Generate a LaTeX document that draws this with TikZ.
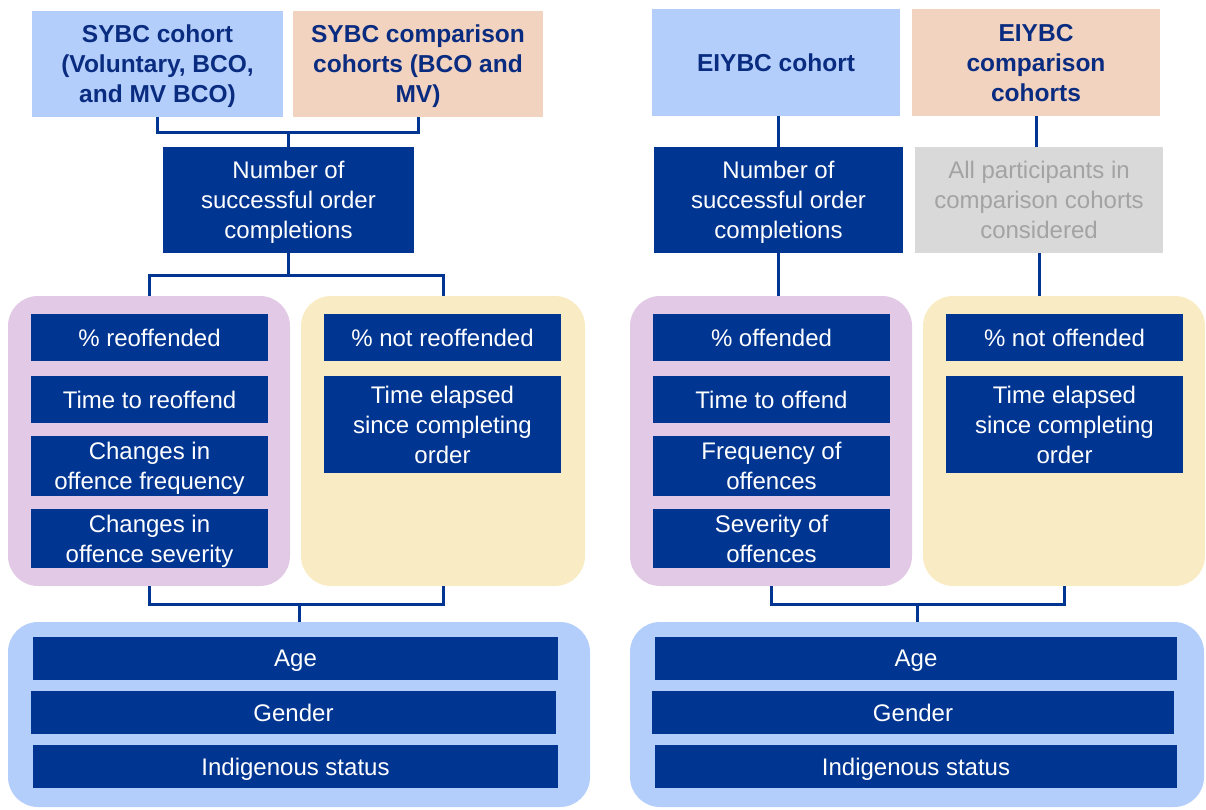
\documentclass[tikz,border=0pt]{standalone}
\usepackage{fontspec}
\setmainfont{Liberation Sans}
\definecolor{navy}{HTML}{003591}
\definecolor{titlenavy}{HTML}{0A2C80}
\definecolor{cohortblue}{HTML}{B4CEFB}
\definecolor{peach}{HTML}{F1D3BF}
\definecolor{lilac}{HTML}{E2C9E5}
\definecolor{cream}{HTML}{F9ECC4}
\definecolor{greybox}{HTML}{D9D9D9}
\definecolor{greytext}{HTML}{A3A3A3}
\begin{document}
\begin{tikzpicture}
[x=1pt,y=-1pt,
 titledecorate/.style={shape=rectangle,inner sep=0pt,text depth=0pt,text=titlenavy,align=center,font=\bfseries\fontsize{24.5}{30}\selectfont},%
 measuredecorate/.style={shape=rectangle,inner sep=0pt,text depth=0pt,fill=navy,text=white,align=center,font=\fontsize{24}{30}\selectfont},%
 paneldecorate/.style={shape=rectangle,inner sep=0pt,rounded corners=30pt},%
 linedecorate/.style={draw=navy,line width=3pt}]
\useasboundingbox (0,0) rectangle (1206,809);
% left half: cohorts
\node (sybc) at (157.5,64) [titledecorate,fill=cohortblue,minimum width=251pt,minimum height=106pt] {SYBC cohort\\(Voluntary, BCO,\\and MV BCO)};
\node (sybccmp) at (418,64) [titledecorate,fill=peach,minimum width=250pt,minimum height=106pt] {SYBC comparison\\cohorts (BCO and\\MV)};
\node (num) at (288.5,200) [measuredecorate,minimum width=251pt,minimum height=106pt] {Number of\\successful order\\completions};
% left half: outcome panels
\node (pur) at (149,441) [paneldecorate,fill=lilac,minimum width=282pt,minimum height=290pt] {};
\node (yel) at (443,441) [paneldecorate,fill=cream,minimum width=284pt,minimum height=290pt] {};
\node (reoff) at (149.5,337.5) [measuredecorate,minimum width=237pt,minimum height=47pt] {\% reoffended};
\node (timere) at (149.5,399.5) [measuredecorate,minimum width=237pt,minimum height=47pt] {Time to reoffend};
\node (freq) at (149.5,466) [measuredecorate,minimum width=237pt,minimum height=60pt] {Changes in\\offence frequency};
\node (sev) at (149.5,538.5) [measuredecorate,minimum width=237pt,minimum height=59pt] {Changes in\\offence severity};
\node (notreoff) at (442.5,337.5) [measuredecorate,minimum width=237pt,minimum height=47pt] {\% not reoffended};
\node (elapsed) at (442.5,424.5) [measuredecorate,minimum width=237pt,minimum height=97pt] {Time elapsed\\since completing\\order};
% left half: demographics
\node (demo) at (299,714.5) [paneldecorate,fill=cohortblue,minimum width=582pt,minimum height=185pt] {};
\node (age) at (295.5,658.5) [measuredecorate,minimum width=525pt,minimum height=43pt] {Age};
\node (gender) at (293.5,712.5) [measuredecorate,minimum width=525pt,minimum height=43pt] {Gender};
\node (indig) at (295.5,766.5) [measuredecorate,minimum width=525pt,minimum height=43pt] {Indigenous status};
% right half: cohorts
\node (eiybc) at (776,62.5) [titledecorate,fill=cohortblue,minimum width=248pt,minimum height=107pt] {EIYBC cohort};
\node (eiybccmp) at (1036,62.5) [titledecorate,fill=peach,minimum width=248pt,minimum height=107pt] {EIYBC\\comparison\\cohorts};
\node (num2) at (778.5,200) [measuredecorate,minimum width=249pt,minimum height=106pt] {Number of\\successful order\\completions};
\node (allpart) at (1039,200) [measuredecorate,fill=greybox,text=greytext,minimum width=248pt,minimum height=106pt] {All participants in\\comparison cohorts\\considered};
% right half: outcome panels
\node (pur2) at (771,441) [paneldecorate,fill=lilac,minimum width=282pt,minimum height=290pt] {};
\node (yel2) at (1064,441) [paneldecorate,fill=cream,minimum width=282pt,minimum height=290pt] {};
\node (off) at (771.5,337.5) [measuredecorate,minimum width=237pt,minimum height=47pt] {\% offended};
\node (timeoff) at (771.5,399.5) [measuredecorate,minimum width=237pt,minimum height=47pt] {Time to offend};
\node (freq2) at (771.5,466) [measuredecorate,minimum width=237pt,minimum height=60pt] {Frequency of\\offences};
\node (sev2) at (771.5,538.5) [measuredecorate,minimum width=237pt,minimum height=59pt] {Severity of\\offences};
\node (notoff) at (1064.5,337.5) [measuredecorate,minimum width=237pt,minimum height=47pt] {\% not offended};
\node (elapsed2) at (1064.5,424.5) [measuredecorate,minimum width=237pt,minimum height=97pt] {Time elapsed\\since completing\\order};
% right half: demographics
\node (demo2) at (917,714.5) [paneldecorate,fill=cohortblue,minimum width=574pt,minimum height=185pt] {};
\node (age2) at (916,658.5) [measuredecorate,minimum width=522pt,minimum height=43pt] {Age};
\node (gender2) at (913,712.5) [measuredecorate,minimum width=522pt,minimum height=43pt] {Gender};
\node (indig2) at (916,766.5) [measuredecorate,minimum width=522pt,minimum height=43pt] {Indigenous status};
% joins
\coordinate (sybcjoin) at (288.5,132);
\coordinate (numjoin) at (288.5,275);
\coordinate (outjoin) at (299,604);
\coordinate (outjoin2) at (917,604);
% edges or lines
\draw[linedecorate] (sybc.south) |- (sybcjoin) -| (sybccmp.south);
\draw[linedecorate] (sybcjoin) -- (num.north);
\draw[linedecorate] (num.south) -- (numjoin);
\draw[linedecorate] (pur.north) |- (numjoin) -| (yel.north);
\draw[linedecorate] (pur.south) |- (outjoin) -| (yel.south);
\draw[linedecorate] (outjoin) -- (demo.north);
\draw[linedecorate] (num2.north) -- (num2.north |- eiybc.south);
\draw[linedecorate] (allpart.north -| eiybccmp.south) -- (eiybccmp.south);
\draw[linedecorate] (num2.south) -- (num2.south |- pur2.north);
\draw[linedecorate] (allpart.south) -- (allpart.south |- yel2.north);
\draw[linedecorate] (pur2.south) |- (outjoin2) -| (yel2.south);
\draw[linedecorate] (outjoin2) -- (demo2.north);
\end{tikzpicture}
\end{document}
